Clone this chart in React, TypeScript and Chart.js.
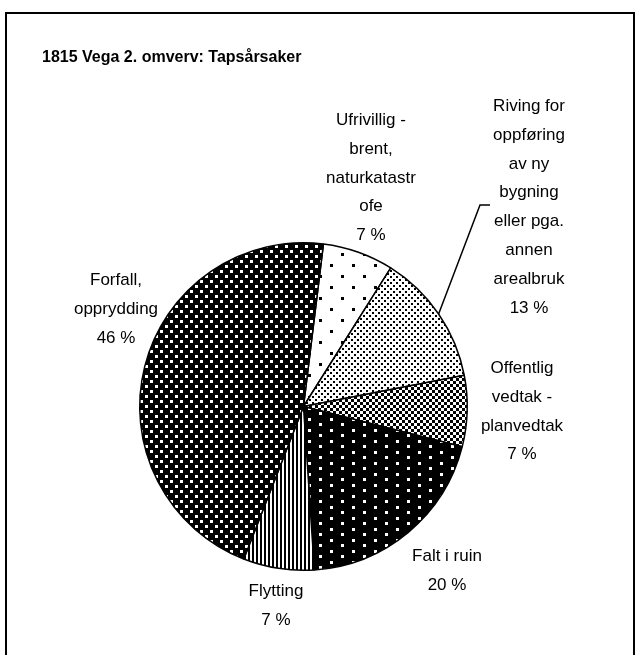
import { useEffect, useRef } from "react";
import { Chart, registerables } from "chart.js";

Chart.register(...registerables);

// ---- data ----
const title = "1815 Vega 2. omverv: Tapsårsaker";
const categories = [
  "Ufrivillig - brent, naturkatastrofe",
  "Riving for oppføring av ny bygning eller pga. annen arealbruk",
  "Offentlig vedtak - planvedtak",
  "Falt i ruin",
  "Flytting",
  "Forfall, opprydding",
];
const values = [7, 13, 7, 20, 7, 46]; // percent
const labelLines = [
  ["Ufrivillig -", "brent,", "naturkatastr", "ofe"],
  ["Riving for", "oppføring", "av ny", "bygning", "eller pga.", "annen", "arealbruk"],
  ["Offentlig", "vedtak -", "planvedtak"],
  ["Falt i ruin"],
  ["Flytting"],
  ["Forfall,", "opprydding"],
];

// ---- layout (label anchors: center x, first baseline y) ----
const labelAnchors = [
  [371, 125],
  [529, 111],
  [522, 373],
  [447, 561],
  [276, 596],
  [116, 285],
];
const LINE_H = 28.8;
const FONT = '"Liberation Sans", Arial, sans-serif';

function tile(w: number, h: number, bg: string, fg: string, rects: number[][]) {
  const c = document.createElement("canvas");
  c.width = w;
  c.height = h;
  const g = c.getContext("2d")!;
  g.fillStyle = bg;
  g.fillRect(0, 0, w, h);
  g.fillStyle = fg;
  for (const r of rects) g.fillRect(r[0], r[1], r[2], r[3]);
  return c;
}

function makePatterns(ctx: CanvasRenderingContext2D) {
  const tiles = [
    tile(22, 22, "#fff", "#000", [[0, 0, 3, 3], [11, 11, 3, 3]]), // Ufrivillig sparse black dots
    tile(6, 6, "#fff", "#000", [[0, 0, 2, 2], [3, 3, 2, 2]]), // Riving dense black dots
    tile(6, 6, "#fff", "#000", [[0, 0, 3, 3], [3, 3, 3, 3]]), // Offentlig checker
    tile(22, 11, "#000", "#fff", [[0, 0, 3, 3], [11, 5, 3, 3]]), // Falt sparse white dots
    tile(4, 1, "#fff", "#000", [[0, 0, 2, 1]]), // Flytting vertical stripes
    tile(10, 10, "#000", "#fff", [[0, 0, 3, 3], [5, 5, 3, 3]]), // Forfall dense white dots
  ];
  return tiles.map((t) => ctx.createPattern(t, "repeat")!);
}

const overlay = {
  id: "overlay",
  beforeDraw(chart: any) {
    const ctx = chart.ctx as CanvasRenderingContext2D;
    ctx.save();
    ctx.fillStyle = "#fff";
    ctx.fillRect(0, 0, chart.width, chart.height);
    ctx.strokeStyle = "#000";
    ctx.lineWidth = 2;
    ctx.strokeRect(6, 13, 628, 700);
    ctx.restore();
  },
  afterDraw(chart: any) {
    const ctx = chart.ctx as CanvasRenderingContext2D;
    ctx.save();
    ctx.fillStyle = "#000";
    ctx.textBaseline = "alphabetic";
    ctx.textAlign = "left";
    ctx.font = `bold 16px ${FONT}`;
    ctx.fillText(title, 42, 62);

    ctx.font = `17px ${FONT}`;
    ctx.textAlign = "center";
    labelLines.forEach((lines, i) => {
      const [cx, y0] = labelAnchors[i];
      const pct = values[i] + " %";
      [...lines, pct].forEach((ln, j) => ctx.fillText(ln, cx, y0 + j * LINE_H));
    });

    // leader line for "Riving..."
    const meta = chart.getDatasetMeta(0);
    const arc = meta.data[1];
    const p = arc.getProps(["x", "y", "startAngle", "endAngle", "outerRadius"], true);
    const mid = (p.startAngle + p.endAngle) / 2;
    const sx = p.x + Math.cos(mid) * p.outerRadius;
    const sy = p.y + Math.sin(mid) * p.outerRadius;
    ctx.strokeStyle = "#000";
    ctx.lineWidth = 1.5;
    ctx.beginPath();
    ctx.moveTo(sx, sy);
    ctx.lineTo(480, 205);
    ctx.lineTo(490, 205);
    ctx.stroke();
    ctx.restore();
  },
};

export default function App() {
  const ref = useRef<HTMLCanvasElement>(null);
  useEffect(() => {
    const canvas = ref.current!;
    const ctx = canvas.getContext("2d")!;
    const patterns = makePatterns(ctx);
    const chart = new Chart(canvas, {
      type: "pie",
      data: {
        labels: categories,
        datasets: [
          {
            data: values,
            backgroundColor: patterns as any,
            borderColor: "#000",
            borderWidth: 1.5,
          },
        ],
      },
      options: {
        responsive: false,
        animation: false,
        devicePixelRatio: 1,
        events: [],
        rotation: 7,
        layout: { padding: { left: 139, right: 173, top: 242, bottom: 84 } },
        plugins: {
          legend: { display: false },
          tooltip: { enabled: false },
          title: { display: false },
        },
      },
      plugins: [overlay],
    });
    return () => chart.destroy();
  }, []);
  return (
    <div style={{ position: "fixed", left: 0, top: 0, width: 641, height: 655, background: "#fff" }}>
      <canvas ref={ref} width={641} height={655} style={{ display: "block" }} />
    </div>
  );
}
